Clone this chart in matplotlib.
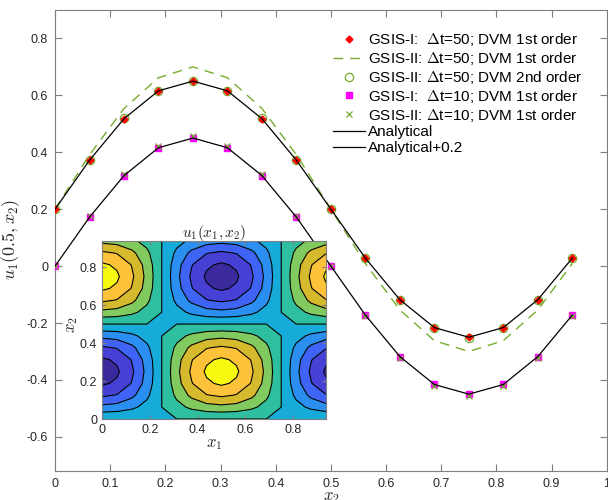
import matplotlib
matplotlib.use("Agg")
import matplotlib.pyplot as plt
import numpy as np
from matplotlib.colors import ListedColormap

plt.rcParams["font.family"] = ["Liberation Sans", "DejaVu Sans"]
plt.rcParams["mathtext.fontset"] = "cm"
plt.rcParams["axes.unicode_minus"] = False
plt.rcParams["contour.negative_linestyle"] = "solid"

# x2 sample points (16 cells)
x2 = [0, 0.0625, 0.125, 0.1875, 0.25, 0.3125, 0.375, 0.4375,
      0.5, 0.5625, 0.625, 0.6875, 0.75, 0.8125, 0.875, 0.9375]

analytical = [0, 0.172, 0.318, 0.416, 0.45, 0.416, 0.318, 0.172,
              0, -0.172, -0.318, -0.416, -0.45, -0.416, -0.318, -0.172]
analytical_p02 = [0.2, 0.372, 0.518, 0.616, 0.65, 0.616, 0.518, 0.372,
                  0.2, 0.028, -0.118, -0.216, -0.25, -0.216, -0.118, 0.028]

gsis1_dt50_dvm1 = [0.2, 0.372, 0.518, 0.616, 0.65, 0.616, 0.518, 0.372,
                   0.2, 0.028, -0.118, -0.216, -0.25, -0.216, -0.118, 0.028]
gsis2_dt50_dvm1 = [0.2, 0.391, 0.554, 0.662, 0.70, 0.662, 0.554, 0.391,
                   0.2, 0.009, -0.154, -0.262, -0.30, -0.262, -0.154, 0.009]
gsis2_dt50_dvm2 = [0.2, 0.373, 0.519, 0.617, 0.651, 0.617, 0.519, 0.373,
                   0.2, 0.027, -0.119, -0.217, -0.251, -0.217, -0.119, 0.027]
gsis1_dt10_dvm1 = [0, 0.172, 0.318, 0.416, 0.45, 0.416, 0.318, 0.172,
                   0, -0.172, -0.318, -0.416, -0.45, -0.416, -0.318, -0.172]
gsis2_dt10_dvm1 = [0, 0.175, 0.323, 0.423, 0.458, 0.423, 0.323, 0.175,
                   0, -0.175, -0.323, -0.423, -0.458, -0.423, -0.323, -0.175]

# inset field: u1(x1, x2) = profile_x1(x1) * analytical(x2)
x1 = x2
profile_x1 = [-1, -0.924, -0.707, -0.383, 0, 0.383, 0.707, 0.924,
              1, 0.924, 0.707, 0.383, 0, -0.383, -0.707, -0.924]
contour_levels = [-0.5, -0.4, -0.3, -0.2, -0.1, 0, 0.1, 0.2, 0.3, 0.4, 0.5]
band_colors = ["#3b2a9e", "#4640d4", "#3f63f4", "#2a8ff0", "#17abd9",
               "#2ebfa0", "#80ca5f", "#d6ba2e", "#fcc23a", "#f8f910"]

GREEN = "#77ac30"
AXC = "#7f7f7f"
TXT = "#262626"

fig = plt.figure(figsize=(6.08, 5.0), dpi=100)
ax = fig.add_axes([0.0905, 0.058, 0.9075, 0.922])

ax.plot(x2, gsis1_dt50_dvm1, linestyle="none", marker="D", ms=3.5, color="red",
        label="GSIS-I:  $\\Delta$t=50; DVM 1st order", zorder=4)
ax.plot(x2, gsis2_dt50_dvm1, linestyle=(0, (7, 5)), lw=1.0, color=GREEN,
        label="GSIS-II: $\\Delta$t=50; DVM 1st order", zorder=2)
ax.plot(x2, gsis2_dt50_dvm2, linestyle="none", marker="o", ms=6, mfc="none",
        mec=GREEN, mew=0.9, label="GSIS-II: $\\Delta$t=50; DVM 2nd order", zorder=3)
ax.plot(x2, gsis1_dt10_dvm1, linestyle="none", marker="s", ms=4.5, color="magenta",
        label="GSIS-I:  $\\Delta$t=10; DVM 1st order", zorder=3)
ax.plot(x2, gsis2_dt10_dvm1, linestyle="none", marker="x", ms=4, mew=0.9, color=GREEN,
        label="GSIS-II: $\\Delta$t=10; DVM 1st order", zorder=4)
ax.plot(x2, analytical, color="black", lw=0.9, label="Analytical", zorder=5)
ax.plot(x2, analytical_p02, color="black", lw=0.9, label="Analytical+0.2", zorder=5)

ax.set_xlim(0, 1)
ax.set_ylim(-0.72, 0.9)
ax.set_xticks([0, 0.1, 0.2, 0.3, 0.4, 0.5, 0.6, 0.7, 0.8, 0.9, 1])
ax.set_xticklabels(["0", "0.1", "0.2", "0.3", "0.4", "0.5", "0.6", "0.7", "0.8", "0.9", "1"])
ax.set_yticks([-0.6, -0.4, -0.2, 0, 0.2, 0.4, 0.6, 0.8])
ax.set_yticklabels(["-0.6", "-0.4", "-0.2", "0", "0.2", "0.4", "0.6", "0.8"])
ax.tick_params(direction="in", length=5, width=0.8, colors=AXC, labelcolor=TXT,
               labelsize=9, top=True, right=True, pad=5)
for s in ax.spines.values():
    s.set_color(AXC)
    s.set_linewidth(0.8)
ax.set_xlabel("$x_2$", fontsize=12, color=TXT, labelpad=0)
ax.set_ylabel("$u_1(0.5,x_2)$", fontsize=13, color=TXT)
ax.yaxis.set_label_coords(-0.06, 0.503)

leg = ax.legend(loc="upper left", bbox_to_anchor=(0.503, 0.954), frameon=False,
                fontsize=11, handlelength=2.1, handletextpad=0.2,
                labelspacing=0.12, borderaxespad=0.0, borderpad=0.0)
for t in leg.get_texts():
    t.set_color("black")

# inset contour plot
axi = fig.add_axes([0.1678, 0.162, 0.3684, 0.356])
field = np.outer(analytical, profile_x1)
cmap = ListedColormap(band_colors)
axi.contourf(x1, x2, field, levels=contour_levels, cmap=cmap, zorder=1)
axi.contour(x1, x2, field, levels=contour_levels[1:-1], colors="black",
            linewidths=0.8, zorder=2)
axi.set_xlim(0, 0.9375)
axi.set_ylim(0, 0.9375)
axi.set_xticks([0, 0.2, 0.4, 0.6, 0.8])
axi.set_xticklabels(["0", "0.2", "0.4", "0.6", "0.8"])
axi.set_yticks([0, 0.2, 0.4, 0.6, 0.8])
axi.set_yticklabels(["0", "0.2", "0.4", "0.6", "0.8"])
axi.tick_params(direction="in", length=3, width=0.8, colors=AXC, labelcolor=TXT,
                labelsize=9, top=True, right=True)
for s in axi.spines.values():
    s.set_color(AXC)
    s.set_linewidth(0.8)
axi.set_xlabel("$x_1$", fontsize=12, color=TXT, labelpad=1)
axi.set_ylabel("$x_2$", fontsize=12, color=TXT)
axi.yaxis.set_label_coords(-0.1, 0.53)
axi.set_title("$u_1(x_1,x_2)$", fontsize=11, color=TXT, pad=3)

fig.savefig("out.png", dpi=100)
